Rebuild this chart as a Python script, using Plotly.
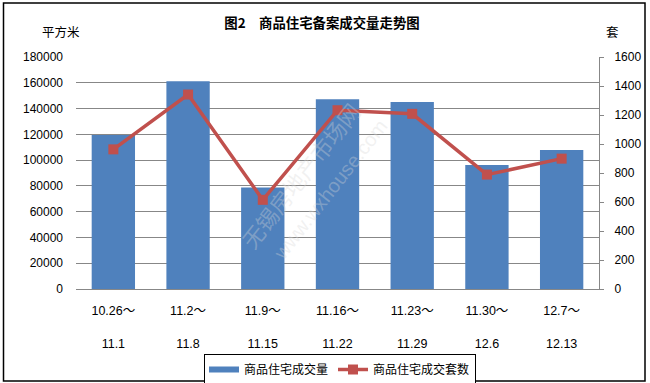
import plotly.graph_objects as go

categories = ["10.26～|11.1", "11.2～|11.8", "11.9～|11.15", "11.16～|11.22",
              "11.23～|11.29", "11.30～|12.6", "12.7～|12.13"]
tick_labels = ["10.26～<br><br>11.1", "11.2～<br><br>11.8", "11.9～<br><br>11.15",
               "11.16～<br><br>11.22", "11.23～<br><br>11.29", "11.30～<br><br>12.6",
               "12.7～<br><br>12.13"]
area_values = [119500, 161200, 78700, 147300, 145000, 96300, 107900]
unit_values = [963, 1341, 615, 1233, 1208, 789, 899]
left_ticks = [0, 20000, 40000, 60000, 80000, 100000, 120000, 140000, 160000, 180000]
right_ticks = [0, 200, 400, 600, 800, 1000, 1200, 1400, 1600]

FONT = "Liberation Sans, Noto Sans CJK SC, sans-serif"
CJK = "Noto Sans CJK SC, sans-serif"
GRID = "#878787"
BLUE = "#4F81BD"
RED = "#C0504D"

fig = go.Figure()
fig.add_trace(go.Bar(
    x=categories, y=area_values, name="商品住宅成交量",
    marker=dict(color=BLUE, line=dict(width=0)), yaxis="y",
    showlegend=False, legendgroup="area",
))
# legend proxy giving the wide bar swatch of the original
fig.add_trace(go.Scatter(
    x=[None], y=[None], name="商品住宅成交量", mode="lines",
    line=dict(color=BLUE, width=6), legendgroup="area", hoverinfo="skip",
))
fig.add_trace(go.Scatter(
    x=categories, y=unit_values, name="商品住宅成交套数", yaxis="y2",
    mode="lines+markers",
    line=dict(color=RED, width=3.5),
    marker=dict(symbol="square", size=10, color=RED),
))

W, H = 650, 383
L, R, T, B = 76, 51, 57, 94
pw, ph = W - L - R, H - T - B

def px_x(x):
    return (x - L) / pw

def px_y(y):
    return (H - B - y) / ph

fig.update_layout(
    width=W, height=H,
    margin=dict(l=L, r=R, t=T, b=B, pad=0, autoexpand=False),
    paper_bgcolor="white", plot_bgcolor="white",
    font=dict(family=FONT, size=12, color="black"),
    bargap=0.42,
    showlegend=True,
    title=dict(text="<b>图2　商品住宅备案成交量走势图</b>", x=322 / W, xanchor="center",
               y=1 - 23 / H, yanchor="middle", font=dict(family=CJK, size=13.4, color="black")),
    legend=dict(orientation="h", x=px_x(340), xanchor="center", y=px_y(354), yanchor="top",
                bordercolor="black", borderwidth=1, bgcolor="white",
                font=dict(family=CJK, size=12, color="black"),
                tracegroupgap=0, itemwidth=30),
    xaxis=dict(type="category", tickmode="array", tickvals=categories, ticktext=tick_labels,
               showgrid=False, showline=True, linecolor=GRID, linewidth=1, ticks="",
               tickfont=dict(family=FONT, size=12.5), ticklabelstandoff=10,
               zeroline=False, automargin=False),
    yaxis=dict(range=[0, 180000], tickmode="array", tickvals=left_ticks,
               showgrid=True, gridcolor=GRID, gridwidth=1, showline=False, ticks="",
               zeroline=False, tickfont=dict(family=FONT, size=12), ticklabelstandoff=12,
               tickformat="d", automargin=False),
    yaxis2=dict(range=[0, 1600], tickmode="array", tickvals=right_ticks, overlaying="y",
                side="right", showgrid=False, showline=True, linecolor=GRID, linewidth=1,
                ticks="outside", ticklen=4, tickcolor=GRID, zeroline=False,
                tickfont=dict(family=FONT, size=12), ticklabelstandoff=8, tickformat="d",
                automargin=False),
)

# outer frame
fig.add_shape(type="rect", xref="paper", yref="paper",
              x0=px_x(3.5), x1=px_x(645), y0=px_y(381), y1=px_y(3),
              line=dict(color="black", width=1.5), fillcolor="rgba(0,0,0,0)", layer="above")

# axis unit labels
fig.add_annotation(text="平方米", xref="paper", yref="paper", x=px_x(61), y=px_y(31),
                   xanchor="center", yanchor="middle",
                   showarrow=False, font=dict(family=CJK, size=12.5, color="black"))
fig.add_annotation(text="套", xref="paper", yref="paper", x=px_x(612), y=px_y(31),
                   xanchor="center", yanchor="middle",
                   showarrow=False, font=dict(family=CJK, size=12.5, color="black"))

# faint watermark
fig.add_annotation(text="无锡房地产市场网", xref="paper", yref="paper", x=px_x(300), y=px_y(175),
                   xanchor="center", yanchor="middle",
                   showarrow=False, textangle=-52,
                   font=dict(family=CJK, size=22, color="rgba(215,215,215,0.35)"))
fig.add_annotation(text="www.wxhouse.com", xref="paper", yref="paper", x=px_x(330), y=px_y(190),
                   xanchor="center", yanchor="middle",
                   showarrow=False, textangle=-52,
                   font=dict(family=FONT, size=20, color="rgba(215,215,215,0.35)"))

fig.write_html(
    "out.html",
    config={"displayModeBar": False},
    post_script="document.body.style.margin='0';document.body.style.overflow='hidden';",
)
